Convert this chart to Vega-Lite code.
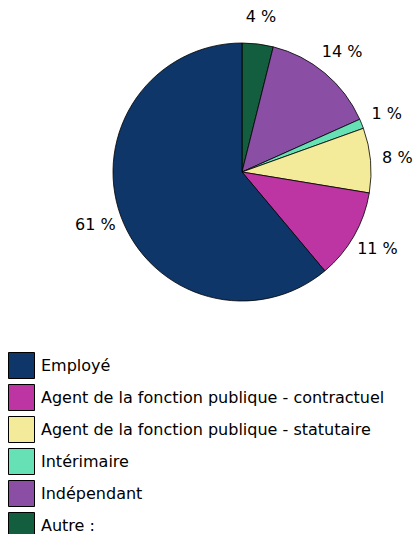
{
  "$schema": "https://vega.github.io/schema/vega-lite/v6.json",
  "width": 352,
  "height": 344,
  "autosize": {"type": "none"},
  "padding": {"left": 66, "top": 0, "right": 0, "bottom": 190},
  "background": "white",
  "view": {"stroke": null},
  "data": {
    "values": [
      {"cat": "Autre :", "value": 3.9, "k": 1, "label": "4 %"},
      {"cat": "Indépendant", "value": 14.4, "k": 2, "label": "14 %"},
      {"cat": "Intérimaire", "value": 1.2, "k": 3, "label": "1 %"},
      {"cat": "Agent de la fonction publique - statutaire", "value": 8.1, "k": 4, "label": "8 %"},
      {"cat": "Agent de la fonction publique - contractuel", "value": 11.3, "k": 5, "label": "11 %"},
      {"cat": "Employé", "value": 61.1, "k": 6, "label": "61 %"}
    ]
  },
  "encoding": {
    "theta": {"field": "value", "type": "quantitative", "stack": true},
    "order": {"field": "k", "type": "quantitative"}
  },
  "layer": [
    {
      "mark": {"type": "arc", "radius": 129, "stroke": "black", "strokeWidth": 0.8},
      "encoding": {
        "color": {
          "field": "cat",
          "type": "nominal",
          "scale": {
            "domain": ["Employé", "Agent de la fonction publique - contractuel", "Agent de la fonction publique - statutaire", "Intérimaire", "Indépendant", "Autre :"],
            "range": ["#0e3668", "#bc35a3", "#f3ea9a", "#66e0b5", "#8a4fa5", "#145e40"]
          },
          "legend": {
            "title": null,
            "orient": "none",
            "legendX": -58,
            "legendY": 352,
            "padding": 0,
            "symbolType": "square",
            "symbolSize": 676,
            "symbolStrokeColor": "black",
            "symbolStrokeWidth": 1,
            "symbolOpacity": 1,
            "rowPadding": 1,
            "labelFont": "DejaVu Sans",
            "labelFontSize": 16,
            "labelColor": "black",
            "labelOffset": 6,
            "labelLimit": 400
          }
        }
      }
    },
    {
      "mark": {"type": "text", "radius": 156, "font": "DejaVu Sans", "fontSize": 16, "color": "black"},
      "encoding": {"text": {"field": "label", "type": "nominal"}}
    }
  ]
}
